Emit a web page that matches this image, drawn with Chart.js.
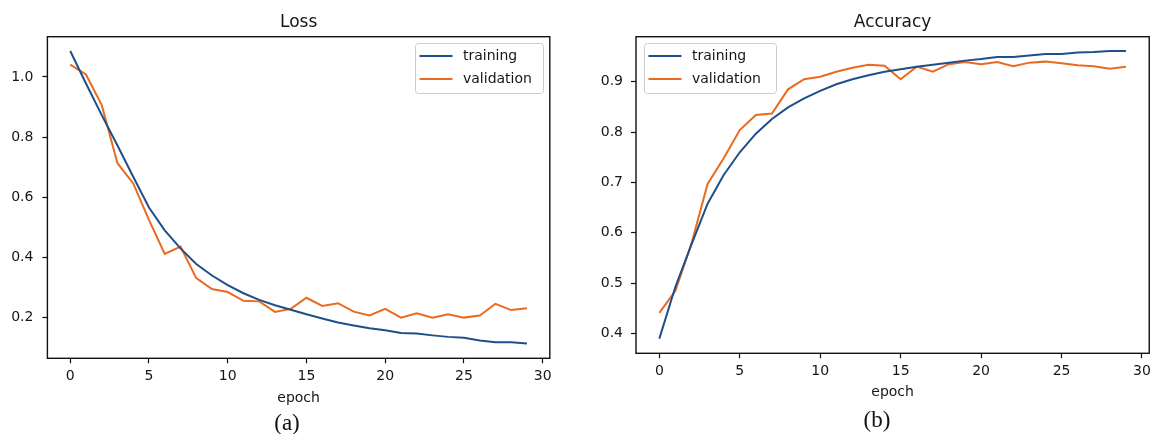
<!DOCTYPE html>
<html>
<head>
<meta charset="utf-8">
<script src="https://cdn.jsdelivr.net/npm/chart.js@4.4.1/dist/chart.umd.min.js"></script>
<style>
  html, body { margin: 0; padding: 0; background: #ffffff; }
  #wrap { position: relative; width: 1156px; height: 434px; overflow: hidden; background: #fff; }
  canvas { position: absolute; top: 0; }
  .cap { position: absolute; width: 100px; text-align: center; font-family: "Liberation Serif", "Times New Roman", serif; font-size: 23px; line-height: 23px; color: #111; }
</style>
</head>
<body>
<div id="wrap">
  <canvas id="lossChart" width="580" height="434" style="left:0px"></canvas>
  <canvas id="accChart" width="576" height="434" style="left:580px"></canvas>
  <div class="cap" style="left:237px;top:411px">(a)</div>
  <div class="cap" style="left:827px;top:408px">(b)</div>
</div>
<script>
// ---- data ----
const epochs = [0,1,2,3,4,5,6,7,8,9,10,11,12,13,14,15,16,17,18,19,20,21,22,23,24,25,26,27,28,29];

const lossTraining = [1.086,0.978,0.873,0.772,0.668,0.566,0.490,0.430,0.378,0.340,0.308,0.281,0.259,0.241,0.226,0.211,0.197,0.184,0.174,0.165,0.158,0.149,0.147,0.141,0.136,0.133,0.124,0.118,0.118,0.114];
const lossValidation = [1.041,1.008,0.906,0.713,0.646,0.525,0.412,0.436,0.331,0.295,0.285,0.256,0.254,0.219,0.229,0.266,0.239,0.248,0.220,0.207,0.229,0.200,0.214,0.200,0.211,0.200,0.207,0.246,0.225,0.231];

const accTraining = [0.390,0.493,0.577,0.658,0.715,0.760,0.797,0.826,0.849,0.867,0.882,0.895,0.905,0.913,0.920,0.925,0.930,0.934,0.938,0.942,0.945,0.949,0.949,0.952,0.955,0.955,0.958,0.959,0.961,0.961];
const accValidation = [0.441,0.485,0.579,0.697,0.748,0.804,0.834,0.837,0.885,0.905,0.910,0.920,0.928,0.934,0.932,0.905,0.930,0.920,0.935,0.939,0.935,0.939,0.931,0.938,0.940,0.937,0.933,0.931,0.926,0.930];

const seriesNames = ['training', 'validation'];
const chartTitles = ['Loss', 'Accuracy'];
const xAxisLabel = 'epoch';

const xTicks = [0,5,10,15,20,25,30];
const xTickLabels = ['0','5','10','15','20','25','30'];
const lossYTicks = [0.2,0.4,0.6,0.8,1.0];
const lossYTickLabels = ['0.2','0.4','0.6','0.8','1.0'];
const accYTicks = [0.4,0.5,0.6,0.7,0.8,0.9];
const accYTickLabels = ['0.4','0.5','0.6','0.7','0.8','0.9'];

const xRange = [-1.45, 30.45];
const lossYRange = [0.0648, 1.1335];
const accYRange = [0.3608, 0.9895];

// ---- styles ----
const COLORS = ['#1f4f8b', '#ea6a20'];
const TEXT = '#161616';
const FONT = 'DejaVu Sans';

const boxPlugin = {
  id: 'boxPlugin',
  afterDraw(chart, args, o) {
    const ctx = chart.ctx, a = chart.chartArea;
    ctx.save();
    // legend inside the axes
    const w = o.w, h = o.h;
    const x = o.corner === 'ne' ? a.right - o.dx - w : a.left + o.dx;
    const y = a.top + o.dy;
    ctx.beginPath();
    if (ctx.roundRect) ctx.roundRect(x + 0.5, y + 0.5, w, h, 3); else ctx.rect(x + 0.5, y + 0.5, w, h);
    ctx.fillStyle = 'rgba(255,255,255,0.85)';
    ctx.fill();
    ctx.strokeStyle = '#cdcdcd';
    ctx.lineWidth = 1;
    ctx.stroke();
    chart.data.datasets.forEach((ds, i) => {
      const ry = y + 13 + i * 23;
      ctx.strokeStyle = ds.borderColor;
      ctx.lineWidth = 2.2;
      ctx.beginPath();
      ctx.moveTo(x + 4.5, ry);
      ctx.lineTo(x + 37.5, ry);
      ctx.stroke();
      ctx.fillStyle = TEXT;
      ctx.font = '14px "' + FONT + '"';
      ctx.textBaseline = 'middle';
      ctx.textAlign = 'left';
      ctx.fillText(ds.label, x + 48, ry);
    });
    // axes frame
    ctx.strokeStyle = '#111';
    ctx.lineWidth = 1.4;
    ctx.strokeRect(a.left, a.top, a.right - a.left, a.bottom - a.top);
    ctx.restore();
  }
};

function makeChart(id, title, trainVals, valVals, yRange, yTicks, yTickLabels, geom) {
  const toPts = vals => epochs.map((e, i) => ({ x: e, y: vals[i] }));
  return new Chart(document.getElementById(id), {
    type: 'line',
    data: {
      datasets: [
        { label: seriesNames[0], data: toPts(trainVals), borderColor: COLORS[0], borderWidth: 2, pointRadius: 0, tension: 0, fill: false },
        { label: seriesNames[1], data: toPts(valVals), borderColor: COLORS[1], borderWidth: 2, pointRadius: 0, tension: 0, fill: false }
      ]
    },
    options: {
      responsive: false,
      animation: false,
      devicePixelRatio: 1,
      layout: { padding: { left: 0, right: geom.padRight, top: 0, bottom: geom.padBottom } },
      plugins: {
        legend: { display: false },
        tooltip: { enabled: false },
        title: {
          display: true, text: title, fullSize: false, color: TEXT,
          font: { family: FONT, size: 17, weight: 'normal', lineHeight: 1.2 },
          padding: { top: 12.3, bottom: 4 }
        },
        boxPlugin: geom.legend
      },
      scales: {
        x: {
          type: 'linear', min: xRange[0], max: xRange[1],
          afterBuildTicks: s => { s.ticks = xTicks.map(v => ({ value: v })); },
          afterFit: s => { s.height = geom.xHeight; },
          ticks: { callback: (v, i) => xTickLabels[i], color: TEXT, padding: 5, maxRotation: 0, font: { family: FONT, size: 14 } },
          grid: { drawOnChartArea: false, drawTicks: true, tickLength: 5, color: '#111', tickWidth: 1.2 },
          border: { display: false },
          title: { display: true, text: xAxisLabel, color: TEXT, font: { family: FONT, size: 14, lineHeight: 1.2 }, padding: { top: 0, bottom: 1.6 } }
        },
        y: {
          type: 'linear', min: yRange[0], max: yRange[1],
          afterBuildTicks: s => { s.ticks = yTicks.map(v => ({ value: v })); },
          afterFit: s => { s.width = geom.yWidth; },
          ticks: { callback: (v, i) => yTickLabels[i], color: TEXT, padding: geom.yPad, font: { family: FONT, size: 14 } },
          grid: { drawOnChartArea: false, drawTicks: true, tickLength: 5, color: '#111', tickWidth: 1.2 },
          border: { display: false }
        }
      }
    },
    plugins: [boxPlugin]
  });
}

makeChart('lossChart', chartTitles[0], lossTraining, lossValidation, lossYRange, lossYTicks, lossYTickLabels, {
  padRight: 30.2, padBottom: 26, xHeight: 49.7, yWidth: 47.4, yPad: 9,
  legend: { corner: 'ne', dx: 6.8, dy: 6.3, w: 128, h: 50 }
});
makeChart('accChart', chartTitles[1], accTraining, accValidation, accYRange, accYTicks, accYTickLabels, {
  padRight: 6.5, padBottom: 32, xHeight: 48.7, yWidth: 56, yPad: 8,
  legend: { corner: 'nw', dx: 8, dy: 6.3, w: 132, h: 50 }
});
</script>
</body>
</html>
